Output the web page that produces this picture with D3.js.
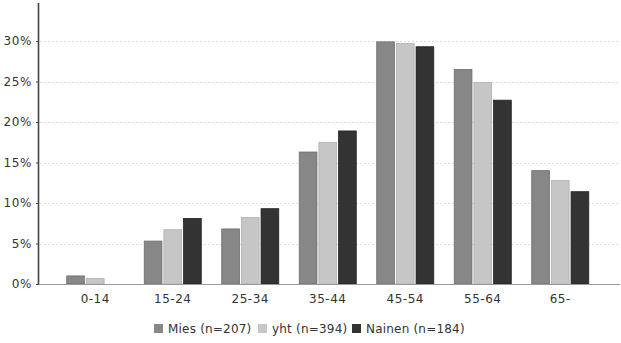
<!DOCTYPE html>
<html>
<head>
<meta charset="utf-8">
<script src="https://cdn.jsdelivr.net/npm/d3@7"></script>
<style>
  html, body { margin: 0; padding: 0; background: #fff; }
  svg { display: block; }
  text { font-family: "DejaVu Sans", Verdana, sans-serif; fill: #333; }
</style>
</head>
<body>
<svg id="chart" width="621" height="343"></svg>
<script>
// Age groups and the share (%) of each group per series
const categories = ["0-14", "15-24", "25-34", "35-44", "45-54", "55-64", "65-"];
const seriesNames = ["Mies (n=207)", "yht (n=394)", "Nainen (n=184)"];
const mies   = [1.0, 5.3, 6.8, 16.3, 29.9, 26.5, 14.0];
const yht    = [0.7, 6.7, 8.2, 17.5, 29.7, 24.9, 12.8];
const nainen = [0.0, 8.1, 9.3, 18.9, 29.3, 22.7, 11.4];
const yTicks = [0, 5, 10, 15, 20, 25, 30];

const seriesValues = [mies, yht, nainen];
const colors = ["#878787", "#c6c6c6", "#333333"];
const strokes = ["#6e6e6e", "#b0b0b0", "#222222"];

const svg = d3.select("#chart");
const plot = { left: 39, right: 620, top: 3, bottom: 284 };

const y = d3.scaleLinear().domain([0, 34.7]).range([plot.bottom, plot.top]);
const x0 = d3.scaleBand().domain(categories).range([56.5, 599]).paddingInner(0.264).paddingOuter(0.132);
const x1 = d3.scaleBand().domain(d3.range(seriesNames.length)).range([0, x0.bandwidth()]).paddingInner(0.1);

// horizontal dotted gridlines
svg.append("g")
  .selectAll("line")
  .data(yTicks.filter(d => d > 0))
  .join("line")
  .attr("x1", plot.left + 1).attr("x2", plot.right)
  .attr("y1", d => Math.round(y(d)) + 0.5).attr("y2", d => Math.round(y(d)) + 0.5)
  .attr("stroke", "#dcdcdc").attr("stroke-dasharray", "2,2");

// bars
const groups = svg.append("g")
  .selectAll("g")
  .data(categories)
  .join("g")
  .attr("transform", d => `translate(${x0(d)},0)`);

groups.selectAll("rect")
  .data((c, i) => seriesValues.map((vals, s) => ({ s, v: vals[i] })).filter(d => d.v > 0))
  .join("rect")
  .attr("x", d => x1(d.s))
  .attr("width", x1.bandwidth())
  .attr("y", d => y(d.v))
  .attr("height", d => plot.bottom - y(d.v))
  .attr("fill", d => colors[d.s])
  .attr("stroke", d => strokes[d.s])
  .attr("stroke-width", 0.8);

// y axis
const yAxis = d3.axisLeft(y).tickValues(yTicks).tickFormat(d => d + "%").tickSize(3).tickPadding(4);
const gy = svg.append("g").attr("transform", `translate(${plot.left},0)`).call(yAxis);
gy.select(".domain").remove();
gy.selectAll(".tick line").attr("stroke", "#444");
gy.selectAll(".tick text").style("font-size", "12px").style("letter-spacing", "0.6px").attr("fill", "#333");
svg.append("line")
  .attr("x1", plot.left - 0.5).attr("x2", plot.left - 0.5)
  .attr("y1", plot.top).attr("y2", plot.bottom + 1)
  .attr("stroke", "#444").attr("stroke-width", 1.6);

// x axis
const xAxis = d3.axisBottom(x0).tickSize(0).tickPadding(10);
const gx = svg.append("g").attr("transform", `translate(0,${plot.bottom})`).call(xAxis);
gx.select(".domain").remove();
gx.selectAll(".tick text").style("font-size", "12px").style("letter-spacing", "0.5px").attr("fill", "#333");
svg.append("line")
  .attr("x1", plot.left).attr("x2", plot.right)
  .attr("y1", plot.bottom + 0.5).attr("y2", plot.bottom + 0.5)
  .attr("stroke", "#999").attr("stroke-width", 1.2);

// legend
const legendX = [154, 258, 352];
const legend = svg.append("g")
  .selectAll("g")
  .data(seriesNames)
  .join("g")
  .attr("transform", (d, i) => `translate(${legendX[i]},324)`);
legend.append("rect").attr("width", 9).attr("height", 9)
  .attr("fill", (d, i) => colors[i]);
legend.append("text").attr("x", 14).attr("y", 9)
  .style("font-size", "12px").style("letter-spacing", "0.2px")
  .text(d => d);
</script>
</body>
</html>
